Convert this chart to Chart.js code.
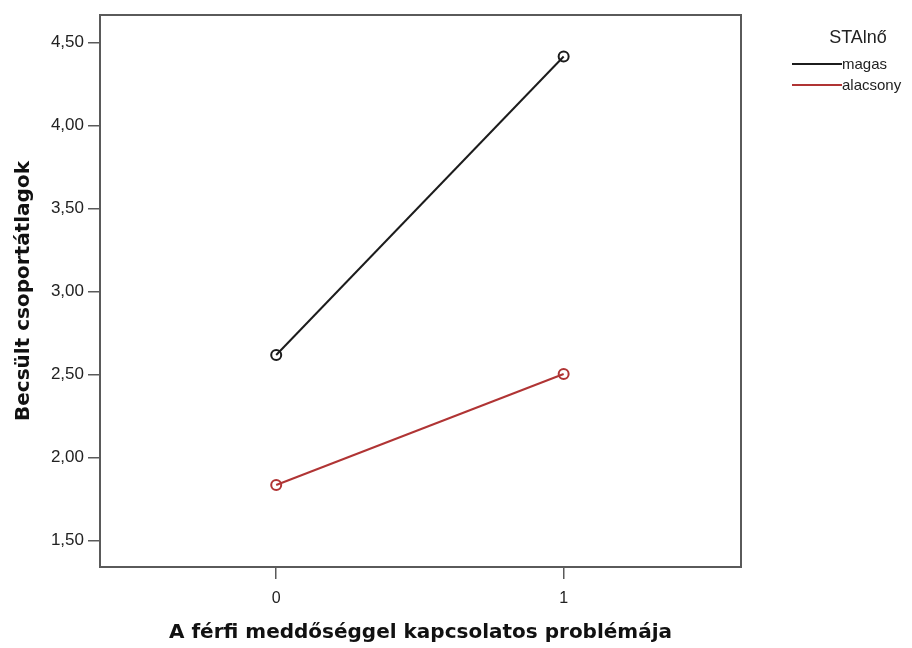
<!DOCTYPE html>
<html>
<head>
<meta charset="utf-8">
<script src="https://cdn.jsdelivr.net/npm/chart.js@4"></script>
<style>
  html, body { margin: 0; padding: 0; background: #ffffff; }
  #wrap { width: 912px; height: 648px; }
</style>
</head>
<body>
<div id="wrap"><canvas id="c" width="912" height="648"></canvas></div>
<script>
// ---- data ----
const categories = [0, 1];
const seriesNames = ['magas', 'alacsony'];
const magas = [2.617, 4.416];
const alacsony = [1.833, 2.502];
const xTickValues = [0, 1];
const xTickLabels = ['0', '1'];
const yTickValues = [1.5, 2.0, 2.5, 3.0, 3.5, 4.0, 4.5];
const yTickLabels = ['1,50', '2,00', '2,50', '3,00', '3,50', '4,00', '4,50'];
const legendTitle = 'STAlnő';
const xTitle = 'A férfi meddőséggel kapcsolatos problémája';
const yTitle = 'Becsült csoportátlagok';

const seriesColors = ['#1c1c1c', '#b03434'];
const seriesValues = [magas, alacsony];

const datasets = seriesNames.map((name, s) => ({
  label: name,
  data: categories.map((c, i) => ({ x: c, y: seriesValues[s][i] })),
  borderColor: seriesColors[s],
  backgroundColor: seriesColors[s],
  borderWidth: 2,
  pointRadius: 5,
  pointBorderWidth: 2,
  pointBackgroundColor: 'rgba(255,255,255,0)',
  pointBorderColor: seriesColors[s],
  tension: 0
}));

const frame = {
  id: 'frame',
  afterDraw(chart) {
    const { ctx, chartArea: a } = chart;
    ctx.save();
    ctx.strokeStyle = '#5a5a5a';
    ctx.lineWidth = 2;
    ctx.strokeRect(a.left, a.top, a.right - a.left, a.bottom - a.top);
    // legend
    ctx.fillStyle = '#222';
    ctx.font = '18px "Liberation Sans", Arial, sans-serif';
    ctx.textAlign = 'center';
    ctx.textBaseline = 'middle';
    ctx.fillText(legendTitle, 858, 38);
    ctx.font = '15px "Liberation Sans", Arial, sans-serif';
    ctx.textAlign = 'left';
    chart.data.datasets.forEach((ds, i) => {
      const y = 64 + i * 21;
      ctx.strokeStyle = ds.borderColor;
      ctx.lineWidth = 2;
      ctx.beginPath();
      ctx.moveTo(792, y);
      ctx.lineTo(842, y);
      ctx.stroke();
      ctx.fillStyle = '#222';
      ctx.fillText(ds.label, 842, y + 1);
    });
    ctx.restore();
  }
};

new Chart(document.getElementById('c'), {
  type: 'line',
  data: { datasets },
  plugins: [frame],
  options: {
    responsive: false,
    animation: false,
    devicePixelRatio: 1,
    layout: { padding: { top: 15, right: 171, left: 0, bottom: 0 } },
    plugins: { legend: { display: false }, tooltip: { enabled: false } },
    scales: {
      x: {
        type: 'linear',
        min: -0.613,
        max: 1.617,
        afterBuildTicks: s => { s.ticks = xTickValues.map(v => ({ value: v })); },
        afterFit: s => { s.height = 81; },
        ticks: {
          callback: (v, i) => xTickLabels[i],
          color: '#222',
          font: { family: '"Liberation Sans", Arial, sans-serif', size: 16 },
          padding: 10,
          maxRotation: 0
        },
        grid: { drawOnChartArea: false, drawTicks: true, tickLength: 12, color: '#5a5a5a', lineWidth: 1.5 },
        border: { display: false },
        title: {
          display: true,
          text: xTitle,
          color: '#111',
          font: { family: '"DejaVu Sans", Verdana, sans-serif', size: 20, weight: 'bold' },
          padding: { top: 0, bottom: 3 }
        }
      },
      y: {
        type: 'linear',
        min: 1.339,
        max: 4.666,
        afterBuildTicks: s => { s.ticks = yTickValues.map(v => ({ value: v })); },
        afterFit: s => { s.width = 100; },
        ticks: {
          callback: (v, i) => yTickLabels[i],
          color: '#222',
          font: { family: '"Liberation Sans", Arial, sans-serif', size: 17 },
          padding: 4
        },
        grid: { drawOnChartArea: false, drawTicks: true, tickLength: 12, color: '#5a5a5a', lineWidth: 1.5 },
        border: { display: false },
        title: {
          display: true,
          text: yTitle,
          color: '#111',
          font: { family: '"DejaVu Sans", Verdana, sans-serif', size: 20, weight: 'bold' },
          padding: { top: 12, bottom: 0 }
        }
      }
    }
  }
});
</script>
</body>
</html>
